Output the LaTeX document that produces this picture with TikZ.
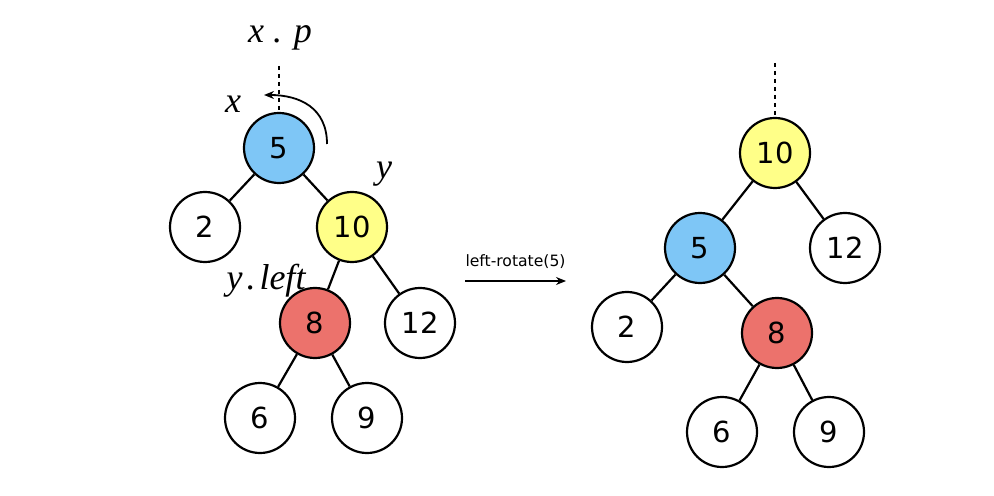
\documentclass[tikz,border=0pt]{standalone}
\usepackage{fontspec}
\setsansfont{DejaVu Sans}
\newfontfamily\labelfont{Liberation Serif}
\usetikzlibrary{arrows.meta}
\definecolor{nodeblue}{RGB}{126,198,246}
\definecolor{nodeyellow}{RGB}{255,255,136}
\definecolor{nodered}{RGB}{236,114,108}
\tikzset{
  treenode/.style={circle, draw=black, line width=1.1pt, minimum size=35pt, inner sep=0pt,
    font=\sffamily\fontsize{14.5}{14.5}\selectfont, fill=white},
  bluenode/.style={treenode, fill=nodeblue},
  yellownode/.style={treenode, fill=nodeyellow},
  rednode/.style={treenode, fill=nodered},
  treeedge/.style={line width=1.1pt, draw=black},
  parentlink/.style={line width=1pt, dash pattern=on 2pt off 2pt},
  mathlabel/.style={font=\labelfont\itshape\fontsize{18}{18}\selectfont, inner sep=0pt},
}
\begin{document}
\begin{tikzpicture}[x=0.5pt, y=-0.5pt]
\useasboundingbox[fill=white] (0,0) rectangle (994,496);

% tree before the rotation
\node[bluenode]   (a5)  at (279,148) {5};
\node[treenode]   (a2)  at (205,227) {2};
\node[yellownode] (a10) at (352,227) {10};
\node[rednode]    (a8)  at (315,323) {8};
\node[treenode]   (a12) at (420,323) {12};
\node[treenode]   (a6)  at (260,418) {6};
\node[treenode]   (a9)  at (367,418) {9};
\draw[treeedge] (a5) -- (a2);
\draw[treeedge] (a5) -- (a10);
\draw[treeedge] (a10) -- (a8);
\draw[treeedge] (a10) -- (a12);
\draw[treeedge] (a8) -- (a6);
\draw[treeedge] (a8) -- (a9);

\coordinate (atop) at (279,66);
\draw[parentlink] (atop) -- (a5.north);

\node[mathlabel] (lxp)  at (280,38)  {x . p};
\node[mathlabel] (lx)   at (233,104) {x};
\node[mathlabel] (ly)   at (384,174) {y};
\node[mathlabel] (lyl)  at (266,281) {y\kern2pt.\kern2pt left};

% rotation hint around x
\coordinate (rs) at (327,144);
\coordinate (re) at (264,95);
\draw[line width=0.9pt, -{Stealth[length=5pt,width=4pt]}] (rs) .. controls (327,108) and (300,95) .. (re);

% operation arrow
\coordinate (ops) at (465,281);
\coordinate (ope) at (566,281);
\draw[line width=0.8pt, -{Stealth[length=5pt,width=4pt]}] (ops) -- (ope)
  node[midway, above=6pt, font=\sffamily\fontsize{7.8}{7.8}\selectfont, inner sep=0pt] (oplabel) {left-rotate(5)};

% tree after the rotation
\node[yellownode] (b10) at (775,153) {10};
\node[bluenode]   (b5)  at (700,248) {5};
\node[treenode]   (b12) at (845,248) {12};
\node[treenode]   (b2)  at (627,327) {2};
\node[rednode]    (b8)  at (777,333) {8};
\node[treenode]   (b6)  at (722,432) {6};
\node[treenode]   (b9)  at (829,432) {9};
\draw[treeedge] (b10) -- (b5);
\draw[treeedge] (b10) -- (b12);
\draw[treeedge] (b5) -- (b2);
\draw[treeedge] (b5) -- (b8);
\draw[treeedge] (b8) -- (b6);
\draw[treeedge] (b8) -- (b9);

\coordinate (btop) at (775,63);
\draw[parentlink] (btop) -- (b10.north);
\end{tikzpicture}
\end{document}
